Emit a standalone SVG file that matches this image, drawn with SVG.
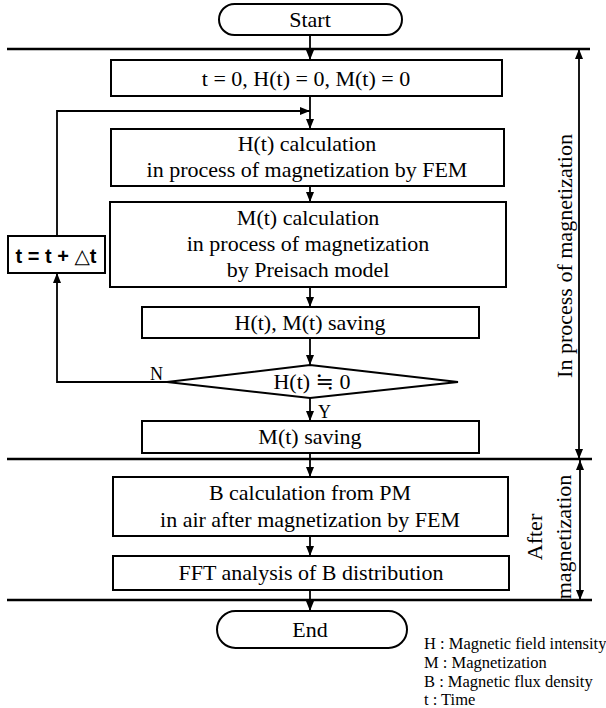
<svg xmlns="http://www.w3.org/2000/svg" width="606" height="708" viewBox="0 0 606 708">
<style>
.box{fill:#fff;stroke:#000;stroke-width:2}
.ln{fill:none;stroke:#000;stroke-width:1.8}
.sep{fill:none;stroke:#000;stroke-width:2.5}
.t{font-family:"Liberation Serif","Times New Roman",serif;font-size:22px;fill:#000;text-anchor:middle}
.s{font-family:"Liberation Serif","Times New Roman",serif;font-size:18px;fill:#000}
.lg{font-family:"Liberation Serif","Times New Roman",serif;font-size:16.5px;fill:#000}
</style>
<defs>
<marker id="ah" markerUnits="userSpaceOnUse" markerWidth="10" markerHeight="8" refX="10" refY="4" orient="auto-start-reverse">
<path d="M0,0 L10,4 L0,8 z" fill="#000"/>
</marker>
</defs>
<g id="separators">
<line class="sep" x1="7" y1="49" x2="590" y2="49"/>
<line class="sep" x1="7" y1="459" x2="592" y2="459"/>
<line class="sep" x1="7" y1="600" x2="592" y2="600"/>
</g>
<g id="connectors">
<line class="ln" x1="310" y1="35" x2="310" y2="60" marker-end="url(#ah)"/>
<line class="ln" x1="310" y1="96" x2="310" y2="129" marker-end="url(#ah)"/>
<polyline class="ln" points="57,236 57,111 310,111" marker-end="url(#ah)"/>
<line class="ln" x1="310" y1="186" x2="310" y2="202" marker-end="url(#ah)"/>
<line class="ln" x1="310" y1="287" x2="310" y2="307" marker-end="url(#ah)"/>
<line class="ln" x1="310" y1="338" x2="310" y2="365" marker-end="url(#ah)"/>
<polyline class="ln" points="167,382 57,382 57,273" marker-end="url(#ah)"/>
<line class="ln" x1="310" y1="398" x2="310" y2="421" marker-end="url(#ah)"/>
<line class="ln" x1="310" y1="453" x2="310" y2="477" marker-end="url(#ah)"/>
<line class="ln" x1="310" y1="536" x2="310" y2="556" marker-end="url(#ah)"/>
<line class="ln" x1="310" y1="590" x2="310" y2="611" marker-end="url(#ah)"/>
<line class="ln" x1="579" y1="49" x2="579" y2="459" marker-start="url(#ah)" marker-end="url(#ah)"/>
<line class="ln" x1="580" y1="460" x2="580" y2="600" marker-start="url(#ah)" marker-end="url(#ah)"/>
<text class="s" x="150" y="380">N</text>
<text class="s" x="318" y="418">Y</text>
</g>
<g id="start">
<rect class="box" x="219" y="4" width="183" height="31" rx="15.5"/>
<text class="t" x="310" y="27">Start</text>
</g>
<g id="init">
<rect class="box" x="111" y="60" width="391" height="36"/>
<text class="t" x="306" y="86">t = 0, H(t) = 0, M(t) = 0</text>
</g>
<g id="hcalc">
<rect class="box" x="111" y="129" width="393" height="57"/>
<text class="t" x="307" y="151">H(t) calculation</text>
<text class="t" x="307" y="177">in process of magnetization by FEM</text>
</g>
<g id="mcalc">
<rect class="box" x="110" y="202" width="396" height="85"/>
<text class="t" x="308" y="225">M(t) calculation</text>
<text class="t" x="308" y="251">in process of magnetization</text>
<text class="t" x="308" y="277">by Preisach model</text>
</g>
<g id="tstep">
<rect class="box" x="8" y="236" width="97" height="37"/>
<text x="56" y="263" style="font-family:'Liberation Sans','DejaVu Sans',sans-serif;font-size:20px;font-weight:bold;text-anchor:middle;fill:#000">t = t + △t</text>
</g>
<g id="hmsave">
<rect class="box" x="142" y="307" width="337" height="31"/>
<text class="t" x="310" y="330">H(t), M(t) saving</text>
</g>
<g id="decision">
<polygon class="box" points="310,365 458,382 310,398 167,382"/>
<text class="t" x="312" y="389" style="font-family:'Liberation Serif','DejaVu Serif','Noto Sans CJK JP',serif">H(t) ≒ 0</text>
</g>
<g id="msave">
<rect class="box" x="142" y="421" width="337" height="32"/>
<text class="t" x="310" y="444">M(t) saving</text>
</g>
<g id="bcalc">
<rect class="box" x="113" y="477" width="395" height="59"/>
<text class="t" x="310" y="500">B calculation from PM</text>
<text class="t" x="310" y="527">in air after magnetization by FEM</text>
</g>
<g id="fft">
<rect class="box" x="113" y="556" width="396" height="34"/>
<text class="t" x="311" y="580">FFT analysis of B distribution</text>
</g>
<g id="end">
<rect class="box" x="217" y="611" width="190" height="37" rx="18.5"/>
<text class="t" x="310" y="637">End</text>
</g>
<g id="labels">
<text class="t" transform="translate(572,256) rotate(-90)">In process of magnetization</text>
<text class="t" transform="translate(542,537) rotate(-90)">After</text>
<text class="t" transform="translate(571,537) rotate(-90)">magnetization</text>
</g>
<g id="legend">
<text class="lg" x="424" y="649">H : Magnetic field intensity</text>
<text class="lg" x="424" y="668">M : Magnetization</text>
<text class="lg" x="424" y="687">B : Magnetic flux density</text>
<text class="lg" x="424" y="705">t : Time</text>
</g>
</svg>
